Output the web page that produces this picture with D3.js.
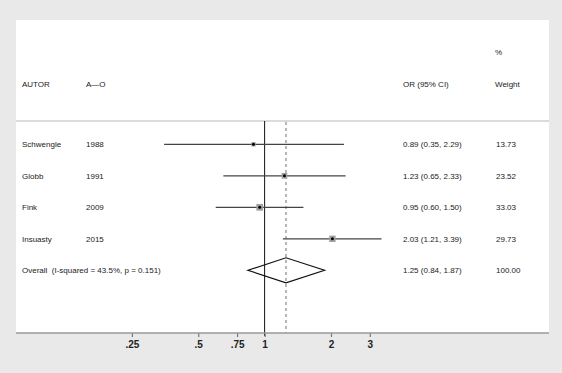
<!DOCTYPE html>
<html>
<head>
<meta charset="utf-8">
<script src="https://cdn.jsdelivr.net/npm/d3@7"></script>
<style>
  body { margin: 0; background: #e9e9e9; }
  svg { display: block; font-family: "Liberation Sans", Arial, sans-serif; }
  text { white-space: pre; }
</style>
</head>
<body>
<div id="chart-area"></div>
<script>
const studies = ["Schwengle", "Globb", "Fink", "Insuasty"];
const years = ["1988", "1991", "2009", "2015"];
const orVals = [0.89, 1.23, 0.95, 2.03];
const lowerCI = [0.35, 0.65, 0.60, 1.21];
const upperCI = [2.29, 2.33, 1.50, 3.39];
const weights = ["13.73", "23.52", "33.03", "29.73"];
const overallLabel = "Overall  (I-squared = 43.5%, p = 0.151)";
const overallOR = [1.25, 0.84, 1.87];
const overallWeight = "100.00";
const tickValues = [0.25, 0.5, 0.75, 1, 2, 3];
const tickLabels = [".25", ".5", ".75", "1", "2", "3"];

const W = 562, H = 373;
const panel = { left: 16, right: 549, top: 20, bottom: 333 };

const svg = d3.select("#chart-area")
    .append("svg")
    .attr("width", W)
    .attr("height", H);

svg.append("rect")
    .attr("x", panel.left)
    .attr("y", panel.top)
    .attr("width", panel.right - panel.left)
    .attr("height", panel.bottom - panel.top)
    .attr("fill", "#fff");

const x = d3.scaleLog()
    .domain([0.25, 3])
    .range([131.9, 369.8]);

const rows = studies.concat(["Overall"]);
const y = d3.scalePoint()
    .domain(rows)
    .range([144.3, 270.3]);

const fmt = d3.format(".2f");
const ciText = (o, l, u) => `${fmt(o)} (${fmt(l)}, ${fmt(u)})`;

// header
const headerY = 84;
const header = svg.append("g").attr("font-size", "8px").attr("fill", "#222");
header.append("text").attr("x", 22).attr("y", headerY).attr("dy", "0.35em").text("AUTOR");
header.append("text").attr("x", 86).attr("y", headerY).attr("dy", "0.35em").text("A\u2014O");
header.append("text").attr("x", 403).attr("y", headerY).attr("dy", "0.35em").text("OR (95% CI)");
header.append("text").attr("x", 495).attr("y", 52).attr("dy", "0.35em").text("%");
header.append("text").attr("x", 495).attr("y", headerY).attr("dy", "0.35em").text("Weight");

svg.append("line")
    .attr("x1", panel.left).attr("x2", panel.right)
    .attr("y1", 121).attr("y2", 121)
    .attr("stroke", "#cfcfcf")
    .attr("stroke-width", 1.5);

// reference lines
svg.append("line")
    .attr("x1", x(1)).attr("x2", x(1))
    .attr("y1", 121).attr("y2", panel.bottom + 3)
    .attr("stroke", "#111")
    .attr("stroke-width", 1);

svg.append("line")
    .attr("x1", x(overallOR[0])).attr("x2", x(overallOR[0]))
    .attr("y1", 122).attr("y2", panel.bottom)
    .attr("stroke", "#888")
    .attr("stroke-width", 1.2)
    .attr("stroke-dasharray", "3,3");

// studies
const g = svg.append("g");
studies.forEach((s, i) => {
    const yy = y(s);
    g.append("text").attr("x", 22).attr("y", yy).attr("dy", "0.35em")
        .attr("font-size", "8px").attr("fill", "#222").text(s);
    g.append("text").attr("x", 86).attr("y", yy).attr("dy", "0.35em")
        .attr("font-size", "8px").attr("fill", "#222").text(years[i]);
    g.append("line")
        .attr("x1", x(lowerCI[i])).attr("x2", x(upperCI[i]))
        .attr("y1", yy).attr("y2", yy)
        .attr("stroke", "#444")
        .attr("stroke-width", 1.3);
    const side = 1.17 * Math.sqrt(+weights[i]);
    g.append("rect")
        .attr("x", x(orVals[i]) - side / 2)
        .attr("y", yy - side / 2)
        .attr("width", side)
        .attr("height", side)
        .attr("fill", "#a0a0a0");
    g.append("circle")
        .attr("cx", x(orVals[i])).attr("cy", yy)
        .attr("r", 1.5)
        .attr("fill", "#000");
    g.append("text").attr("x", 403).attr("y", yy).attr("dy", "0.35em")
        .attr("font-size", "8px").attr("fill", "#222")
        .text(ciText(orVals[i], lowerCI[i], upperCI[i]));
    g.append("text").attr("x", 496).attr("y", yy).attr("dy", "0.35em")
        .attr("font-size", "8px").attr("fill", "#222").text(weights[i]);
});

// overall
const oy = y("Overall");
g.append("text").attr("x", 22).attr("y", oy).attr("dy", "0.35em")
    .attr("font-size", "8px").attr("fill", "#222").text(overallLabel);
g.append("path")
    .attr("d", `M${x(overallOR[1])},${oy} L${x(overallOR[0])},${oy - 12.5} L${x(overallOR[2])},${oy} L${x(overallOR[0])},${oy + 12.5} Z`)
    .attr("fill", "none")
    .attr("stroke", "#111")
    .attr("stroke-width", 1.2);
g.append("text").attr("x", 403).attr("y", oy).attr("dy", "0.35em")
    .attr("font-size", "8px").attr("fill", "#222")
    .text(ciText(overallOR[0], overallOR[1], overallOR[2]));
g.append("text").attr("x", 496).attr("y", oy).attr("dy", "0.35em")
    .attr("font-size", "8px").attr("fill", "#222").text(overallWeight);

// axis
const xAxis = d3.axisBottom(x)
    .tickValues(tickValues)
    .tickFormat((d, i) => tickLabels[i])
    .tickSize(4)
    .tickPadding(4);

const ax = svg.append("g")
    .attr("transform", `translate(0, ${panel.bottom})`)
    .call(xAxis);
ax.select(".domain").remove();
ax.selectAll(".tick line").attr("stroke", "#777").attr("stroke-width", 1.2);
ax.selectAll(".tick text")
    .attr("font-size", "10px")
    .attr("font-weight", "bold")
    .attr("fill", "#222")
    .attr("font-family", "Liberation Sans, Arial, sans-serif");

svg.append("line")
    .attr("x1", panel.left).attr("x2", panel.right)
    .attr("y1", panel.bottom).attr("y2", panel.bottom)
    .attr("stroke", "#999")
    .attr("stroke-width", 1.5);
</script>
</body>
</html>
